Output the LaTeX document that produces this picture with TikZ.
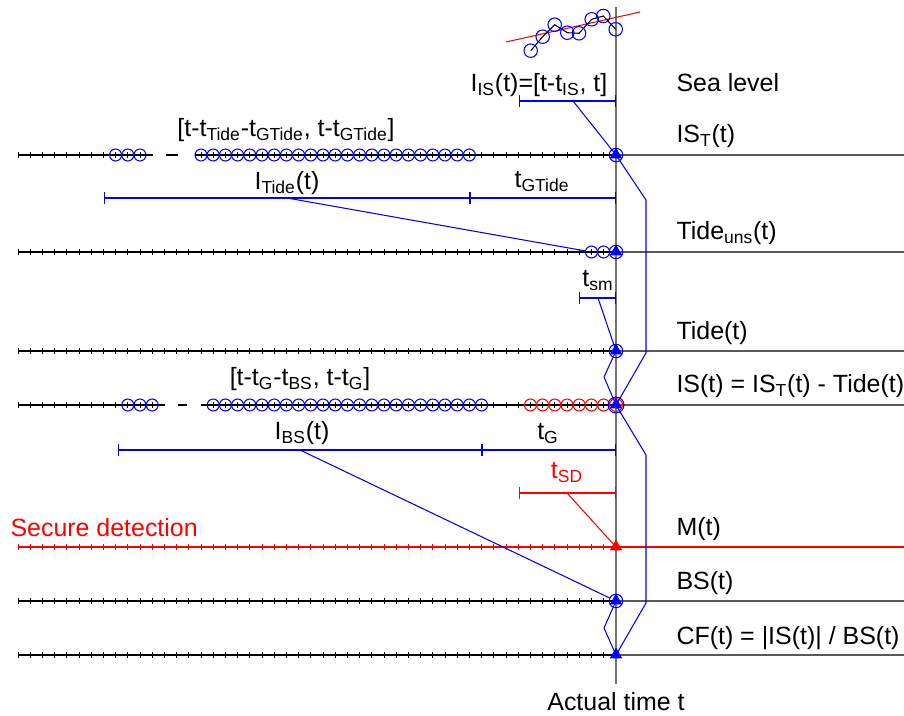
\documentclass[tikz,border=0pt]{standalone}
\usepackage{fontspec}
\setmainfont{Liberation Sans}
\setsansfont{Liberation Sans}
\usetikzlibrary{calc}
\usetikzlibrary{positioning}
\usetikzlibrary{arrows.meta}

\begin{document}
\begin{tikzpicture}[x=0.02cm, y=-0.02cm, line width=0.6pt, font=\sffamily\fontsize{14.2}{17}\selectfont]
	\tikzstyle{tick}=[black, line width=0.5pt]
	\tikzstyle{smp}=[circle, draw=blue, minimum size=0.24cm, inner sep=0pt, line width=0.6pt]
	\tikzstyle{bar}=[blue, {Bar[width=0.24cm]}-{Bar[width=0.24cm]}]
	\tikzstyle{con}=[blue]
	\tikzstyle{lbl}=[anchor=base west, inner sep=0pt]
	\tikzstyle{itv}=[anchor=base, inner sep=0pt]
	\tikzstyle{after}=[black!65]

	\useasboundingbox (0,0) rectangle (904,716);

	% time axis
	\draw[black!55, line width=0.9pt] (616,7) -- (616,684);
	\node[itv] (now) at (616,710) {Actual time t};

	% sea level samples
	\draw[red] (506,42) -- (640,12);
	\draw[black] (530.7,50.7) -- (542.7,36.7) -- (554.7,24.7) -- (567.3,32.7) -- (579,33.3) -- (591.7,19.3) -- (603.3,16) -- (615.7,29.3);
	\foreach \x/\y [count=\i] in {530.7/50.7, 542.7/36.7, 554.7/24.7, 567.3/32.7, 579/33.3, 591.7/19.3, 603.3/16, 615.7/29.3}
		\node[smp, minimum size=0.27cm] (sea\i) at (\x,\y) {};
	\node[lbl] (lsea) at (676,92) {Sea level};
	\draw[bar] (519,101) -- (616,101);
	\coordinate (iis) at (573,101);
	\node[itv] (liis) at (539,92) {I\textsubscript{IS}(t)=[t-t\textsubscript{IS}, t]};

	% IS_T(t)
	\draw (18,155) -- (153,155) (166,155) -- (178,155) (195,155) -- (616,155);
	\draw[after] (616,155) -- (904,155);
	\foreach \k in {0,...,10} \draw[tick] ({18+12.2*\k},152) -- ++(0,6);
	\foreach \k in {15,...,48} \draw[tick] ({18+12.2*\k},152) -- ++(0,6);
	\foreach \k in {8,9,10,15,16,...,37} \node[smp] (ist\k) at ({18+12.2*\k},155) {};
	\coordinate (ist) at (616,155);
	\node[smp, minimum size=0.27cm] (istc) at (ist) {};
	\node[lbl] (list) at (676,143) {IS\textsubscript{T}(t)};
	\node[itv] (lwin1) at (286,137) {[t-t\textsubscript{Tide}-t\textsubscript{GTide}, t-t\textsubscript{GTide}]};

	% tide window
	\draw[bar] (104,198) -- (470,198);
	\draw[bar] (470,198) -- (616,198);
	\coordinate (itide) at (287,198);
	\node[itv] (litide) at (287,190) {I\textsubscript{Tide}(t)};
	\node[itv] (ltg) at (542,188) {t\textsubscript{GTide}};

	% Tide_uns(t)
	\draw (18,252) -- (616,252);
	\draw[after] (616,252) -- (904,252);
	\foreach \k in {0,...,48} \draw[tick] ({18+12.2*\k},249) -- ++(0,6);
	\foreach \k in {47,48} \node[smp] (tu\k) at ({18+12.2*\k},252) {};
	\coordinate (tu) at (616,252);
	\node[smp, minimum size=0.27cm] (tuc) at (tu) {};
	\node[lbl] (ltu) at (676,240) {Tide\textsubscript{uns}(t)};

	% smoothing
	\draw[bar] (579,298) -- (616,298);
	\coordinate (ism) at (598,298);
	\node[itv] (lsm) at (598,287) {t\textsubscript{sm}};

	% Tide(t)
	\draw (18,351) -- (616,351);
	\draw[after] (616,351) -- (904,351);
	\foreach \k in {0,...,48} \draw[tick] ({18+12.2*\k},348) -- ++(0,6);
	\coordinate (tide) at (616,351);
	\node[smp, minimum size=0.27cm] (tidec) at (tide) {};
	\node[lbl] (ltide) at (676,340) {Tide(t)};

	% IS(t)
	\draw (18,405) -- (165,405) (178,405) -- (187,405) (201,405) -- (616,405);
	\draw[after] (616,405) -- (904,405);
	\foreach \k in {0,...,11} \draw[tick] ({18+12.2*\k},402) -- ++(0,6);
	\foreach \k in {16,...,48} \draw[tick] ({18+12.2*\k},402) -- ++(0,6);
	\foreach \k in {9,10,11,16,17,...,38} \node[smp] (is\k) at ({18+12.2*\k},405) {};
	\foreach \k in {42,...,48} \node[smp, draw=red] (isr\k) at ({18+12.2*\k},405) {};
	\coordinate (is) at (616,405);
	\node[smp, minimum size=0.32cm] (isc) at (is) {};
	\node[smp, draw=red, minimum size=0.26cm] (isrc) at (is) {};
	\node[lbl] (lis) at (676,393) {IS(t) = IS\textsubscript{T}(t) - Tide(t)};
	\node[itv] (lwin2) at (300,386) {[t-t\textsubscript{G}-t\textsubscript{BS}, t-t\textsubscript{G}]};

	% background window
	\draw[bar] (118,450) -- (482,450);
	\draw[bar] (482,450) -- (616,450);
	\coordinate (ibs) at (300,450);
	\node[itv] (libs) at (302,440) {I\textsubscript{BS}(t)};
	\node[itv] (ltgg) at (548,440) {t\textsubscript{G}};

	% secure detection
	\draw[bar, red] (519,493) -- (616,493);
	\coordinate (isd) at (567,493);
	\node[itv, red] (lsd) at (567,479) {t\textsubscript{SD}};

	% M(t)
	\draw[red] (18,547) -- (904,547);
	\foreach \k in {0,...,48} \draw[tick, red] ({18+12.2*\k},544) -- ++(0,6);
	\coordinate (m) at (616,547);
	\node[lbl] (lm) at (676,536) {M(t)};
	\node[lbl, red] (lsec) at (10,537) {Secure detection};

	% BS(t)
	\draw (18,601) -- (616,601);
	\draw[after] (616,601) -- (904,601);
	\foreach \k in {0,...,48} \draw[tick] ({18+12.2*\k},598) -- ++(0,6);
	\coordinate (bs) at (616,601);
	\node[smp, minimum size=0.27cm] (bsc) at (bs) {};
	\node[lbl] (lbs) at (676,590) {BS(t)};

	% CF(t)
	\draw (18,655) -- (616,655);
	\draw[after] (616,655) -- (904,655);
	\foreach \k in {0,...,48} \draw[tick] ({18+12.2*\k},652) -- ++(0,6);
	\coordinate (cf) at (616,655);
	\node[lbl] (lcf) at (676,644) {CF(t) = |IS(t)| / BS(t)};

	% connectors
	\draw[con] (iis) -- (ist);
	\draw[con] (ist) -- (646,200) -- (646,353) -- (is);
	\draw[con] (itide) -- (tu47);
	\draw[con] (ism) -- (tide);
	\draw[con] (tide) -- (604,377) -- (is);
	\draw[con] (is) -- (646,455) -- (646,603) -- (cf);
	\draw[con] (ibs) -- (bsc);
	\draw[con] (bs) -- (604,628) -- (cf);
	\draw[red] (isd) -- (m);

	% actual time markers
	\foreach \p in {ist,tu,tide,is,bs,cf}
		\filldraw[blue, line width=0.5pt, line join=round] (\p) +(-5.5,3) -- +(5.5,3) -- +(0,-6.5) -- cycle;
	\filldraw[red, line width=0.5pt, line join=round] (m) +(-5.5,3) -- +(5.5,3) -- +(0,-6.5) -- cycle;
\end{tikzpicture}
\end{document}
